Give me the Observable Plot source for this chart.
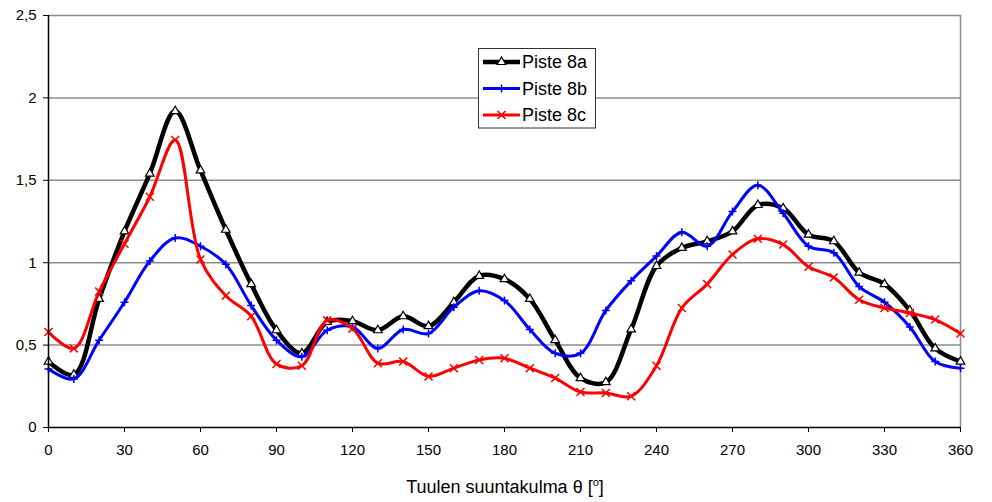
<!DOCTYPE html>
<html><head><meta charset="utf-8">
<script src="https://cdn.jsdelivr.net/npm/d3@7"></script>
<script src="https://cdn.jsdelivr.net/npm/@observablehq/plot@0.6"></script>
<style>body{margin:0;background:#fff}</style>
</head><body><div id="chart"></div>
<script>
const angles = [0,10,20,30,40,50,60,70,80,90,100,110,120,130,140,150,160,170,180,190,200,210,220,230,240,250,260,270,280,290,300,310,320,330,340,350,360];
const piste8a = [0.40,0.32,0.78,1.19,1.54,1.92,1.56,1.20,0.87,0.59,0.45,0.64,0.645,0.59,0.675,0.615,0.76,0.92,0.90,0.78,0.53,0.30,0.275,0.595,0.98,1.09,1.13,1.19,1.35,1.33,1.17,1.13,0.94,0.87,0.71,0.48,0.40];
const piste8b = [0.355,0.295,0.53,0.76,1.01,1.15,1.10,0.99,0.74,0.53,0.43,0.59,0.61,0.48,0.595,0.57,0.73,0.83,0.77,0.595,0.45,0.45,0.71,0.89,1.04,1.185,1.10,1.31,1.47,1.30,1.10,1.06,0.855,0.76,0.61,0.40,0.36];
const piste8c = [0.58,0.48,0.825,1.115,1.40,1.745,1.02,0.80,0.675,0.385,0.375,0.65,0.60,0.39,0.40,0.31,0.36,0.41,0.42,0.36,0.30,0.215,0.21,0.19,0.375,0.725,0.87,1.05,1.145,1.11,0.975,0.91,0.775,0.725,0.695,0.655,0.57];
const seriesNames = ["Piste 8a","Piste 8b","Piste 8c"];
const xTicks = [0,30,60,90,120,150,180,210,240,270,300,330,360];
const yTicks = [0,0.5,1,1.5,2,2.5];
const yTickLabels = ["0","0,5","1","1,5","2","2,5"];
const xTitle = "Tuulen suuntakulma θ [";

const styles = [
  {stroke:"#000000", width:4.5, symbol:"triangle", r:3.2, fill:"white", mstroke:"#000", mwidth:1.2},
  {stroke:"#0000ff", width:3, symbol:"plus", r:2.7, fill:"none", mstroke:"#0000ff", mwidth:1.5},
  {stroke:"#ff0000", width:3, symbol:"times", r:3.7, fill:"none", mstroke:"#ff0000", mwidth:1.5}
];
const allValues = [piste8a, piste8b, piste8c];
const seriesData = allValues.map((vals, k) => angles.map((a, i) => ({angle:a, value:vals[i], name:seriesNames[k]})));

const marks = [
  Plot.ruleY(yTicks.filter(v => v > 0), {stroke:"#8c8c8c", strokeWidth:1.5}),
  Plot.ruleX([360], {stroke:"#8c8c8c", strokeWidth:1.5})
];
seriesData.forEach((d, k) => {
  const s = styles[k];
  marks.push(Plot.line(d, {x:"angle", y:"value", curve:"catmull-rom", stroke:s.stroke, strokeWidth:s.width}));
  marks.push(Plot.dot(d, {x:"angle", y:"value", symbol:() => s.symbol, r:s.r, fill:s.fill, stroke:s.mstroke, strokeWidth:s.mwidth}));
});
marks.push(Plot.ruleX([0], {stroke:"#000", strokeWidth:1.5}));
marks.push(Plot.ruleY([0], {stroke:"#000", strokeWidth:1.5}));

const chart = Plot.plot({
  width: 992, height: 502,
  marginLeft: 48, marginRight: 32, marginTop: 15, marginBottom: 75,
  style: {fontFamily: "'Liberation Sans', Arial, sans-serif", fontSize: "15px", background: "white", color: "#000", overflow: "visible"},
  x: {domain:[0,360], ticks:xTicks, tickSize:5, tickPadding:12, label:null},
  y: {domain:[0,2.5], ticks:yTicks, tickFormat: v => yTickLabels[yTicks.indexOf(v)], tickSize:5, tickPadding:7, label:null},
  marks
});
document.getElementById("chart").appendChild(chart);

const svg = d3.select(chart);
// axis title
const t = svg.append("text").attr("x", 505).attr("y", 493).attr("text-anchor", "middle")
  .attr("font-size", 18).attr("fill", "#000");
t.append("tspan").text(xTitle);
t.append("tspan").attr("dy", -7).attr("font-size", 11).text("o");
t.append("tspan").attr("dy", 7).text("]");

// legend
const lg = svg.append("g");
lg.append("rect").attr("x", 478.5).attr("y", 48.5).attr("width", 117).attr("height", 79.5)
  .attr("fill", "white").attr("stroke", "#333").attr("stroke-width", 1);
const rowsY = [62, 88.5, 115];
seriesNames.forEach((name, k) => {
  const s = styles[k], y = rowsY[k];
  lg.append("line").attr("x1", 483).attr("x2", 520).attr("y1", y).attr("y2", y)
    .attr("stroke", s.stroke).attr("stroke-width", s.width);
  const sym = {triangle:d3.symbolTriangle, plus:d3.symbolPlus, times:d3.symbolTimes}[s.symbol];
  lg.append("path").attr("d", d3.symbol(sym, Math.PI * s.r * s.r)())
    .attr("transform", `translate(501.5,${y})`)
    .attr("fill", s.fill).attr("stroke", s.mstroke).attr("stroke-width", s.mwidth);
  lg.append("text").attr("x", 522).attr("y", y).attr("dy", "0.36em").attr("text-anchor", "start")
    .attr("font-size", 18).attr("fill", "#000").text(name);
});
</script>
</body></html>
